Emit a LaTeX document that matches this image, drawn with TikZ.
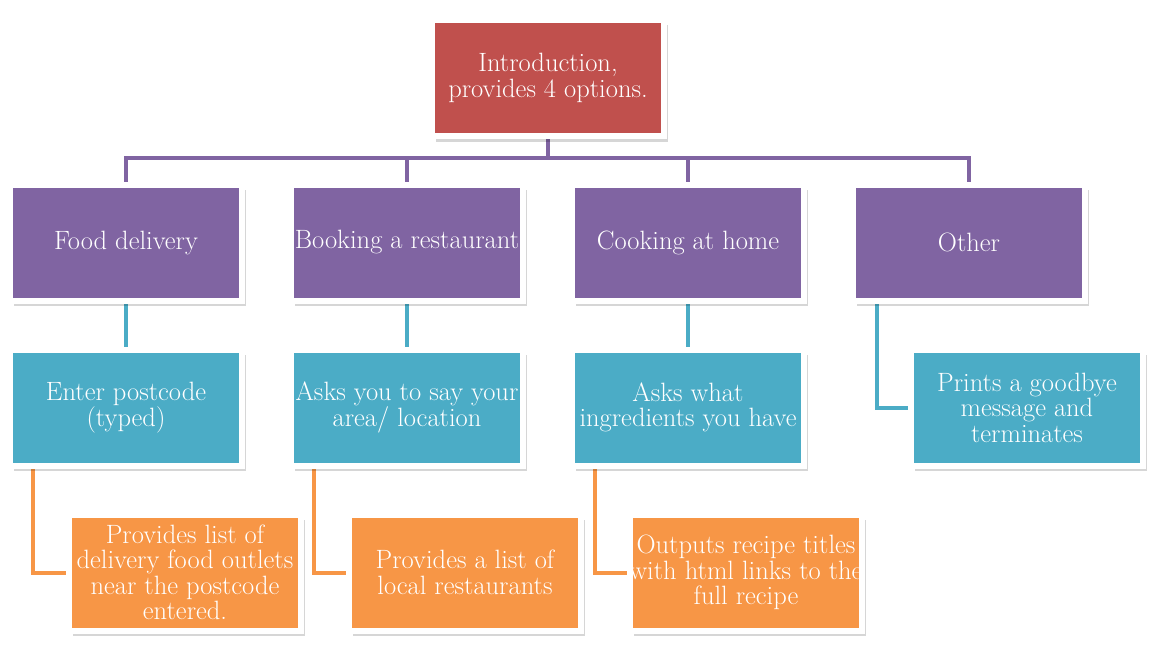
\documentclass[tikz,border=0pt]{standalone}
\usepackage{fontspec}
\usetikzlibrary{shadows,backgrounds}
\definecolor{cred}{HTML}{C0504D}
\definecolor{cpurple}{HTML}{8064A2}
\definecolor{cblue}{HTML}{4BACC6}
\definecolor{corange}{HTML}{F79646}
\tikzset{
  boxbase/.style={rectangle, draw=white, line width=6pt, inner sep=0pt,
    minimum width=232pt, minimum height=116pt, align=center, text=white,
    font=\fontsize{26.5}{25.5}\selectfont,
    drop shadow={shadow xshift=4pt, shadow yshift=-5.5pt, opacity=0.16, fill=black}},
  redbox/.style={boxbase, fill=cred},
  purplebox/.style={boxbase, fill=cpurple},
  bluebox/.style={boxbase, fill=cblue},
  orangebox/.style={boxbase, fill=corange},
  pline/.style={draw=cpurple, line width=4pt},
  bline/.style={draw=cblue, line width=4pt},
  oline/.style={draw=corange, line width=4pt},
}
\begin{document}
\begin{tikzpicture}[x=1pt,y=-1pt]
\useasboundingbox (0,0) rectangle (1153,650);
\node[redbox] (intro) at (548,78) {Introduction,\\provides 4 options.};
\node[purplebox] (fd) at (126,242.5) {Food delivery};
\node[purplebox] (br) at (407,242.5) {Booking a restaurant};
\node[purplebox] (ch) at (688,242.5) {Cooking at home};
\node[purplebox] (ot) at (969,242.5) {Other};
\node[bluebox] (fd2) at (126,407.5) {Enter postcode\\(typed)};
\node[bluebox] (br2) at (407,407.5) {Asks you to say your\\area/ location};
\node[bluebox] (ch2) at (688,407.5) {Asks what\\ingredients you have};
\node[bluebox] (ot2) at (1027,407.5) {Prints a goodbye\\message and\\terminates};
\node[orangebox] (fd3) at (185,572.5) {Provides list of\\delivery food outlets\\near the postcode\\entered.};
\node[orangebox] (br3) at (465,572.5) {Provides a list of\\local restaurants};
\node[orangebox] (ch3) at (746,572.5) {Outputs recipe titles\\with html links to the\\full recipe};
\coordinate (bar) at (548,158);
\begin{scope}[on background layer]
\draw[pline] (intro.south) -- (bar);
\draw[pline] (bar) -| (fd.north);
\draw[pline] (bar) -| (br.north);
\draw[pline] (bar) -| (ch.north);
\draw[pline] (bar) -| (ot.north);
\draw[bline] (fd.south) -- (fd2.north);
\draw[bline] (br.south) -- (br2.north);
\draw[bline] (ch.south) -- (ch2.north);
\draw[bline] ([xshift=-92pt]ot.south) |- (ot2.west);
\draw[oline] ([xshift=-93pt]fd2.south) |- (fd3.west);
\draw[oline] ([xshift=-93pt]br2.south) |- (br3.west);
\draw[oline] ([xshift=-93pt]ch2.south) |- (ch3.west);
\end{scope}
\end{tikzpicture}
\end{document}
